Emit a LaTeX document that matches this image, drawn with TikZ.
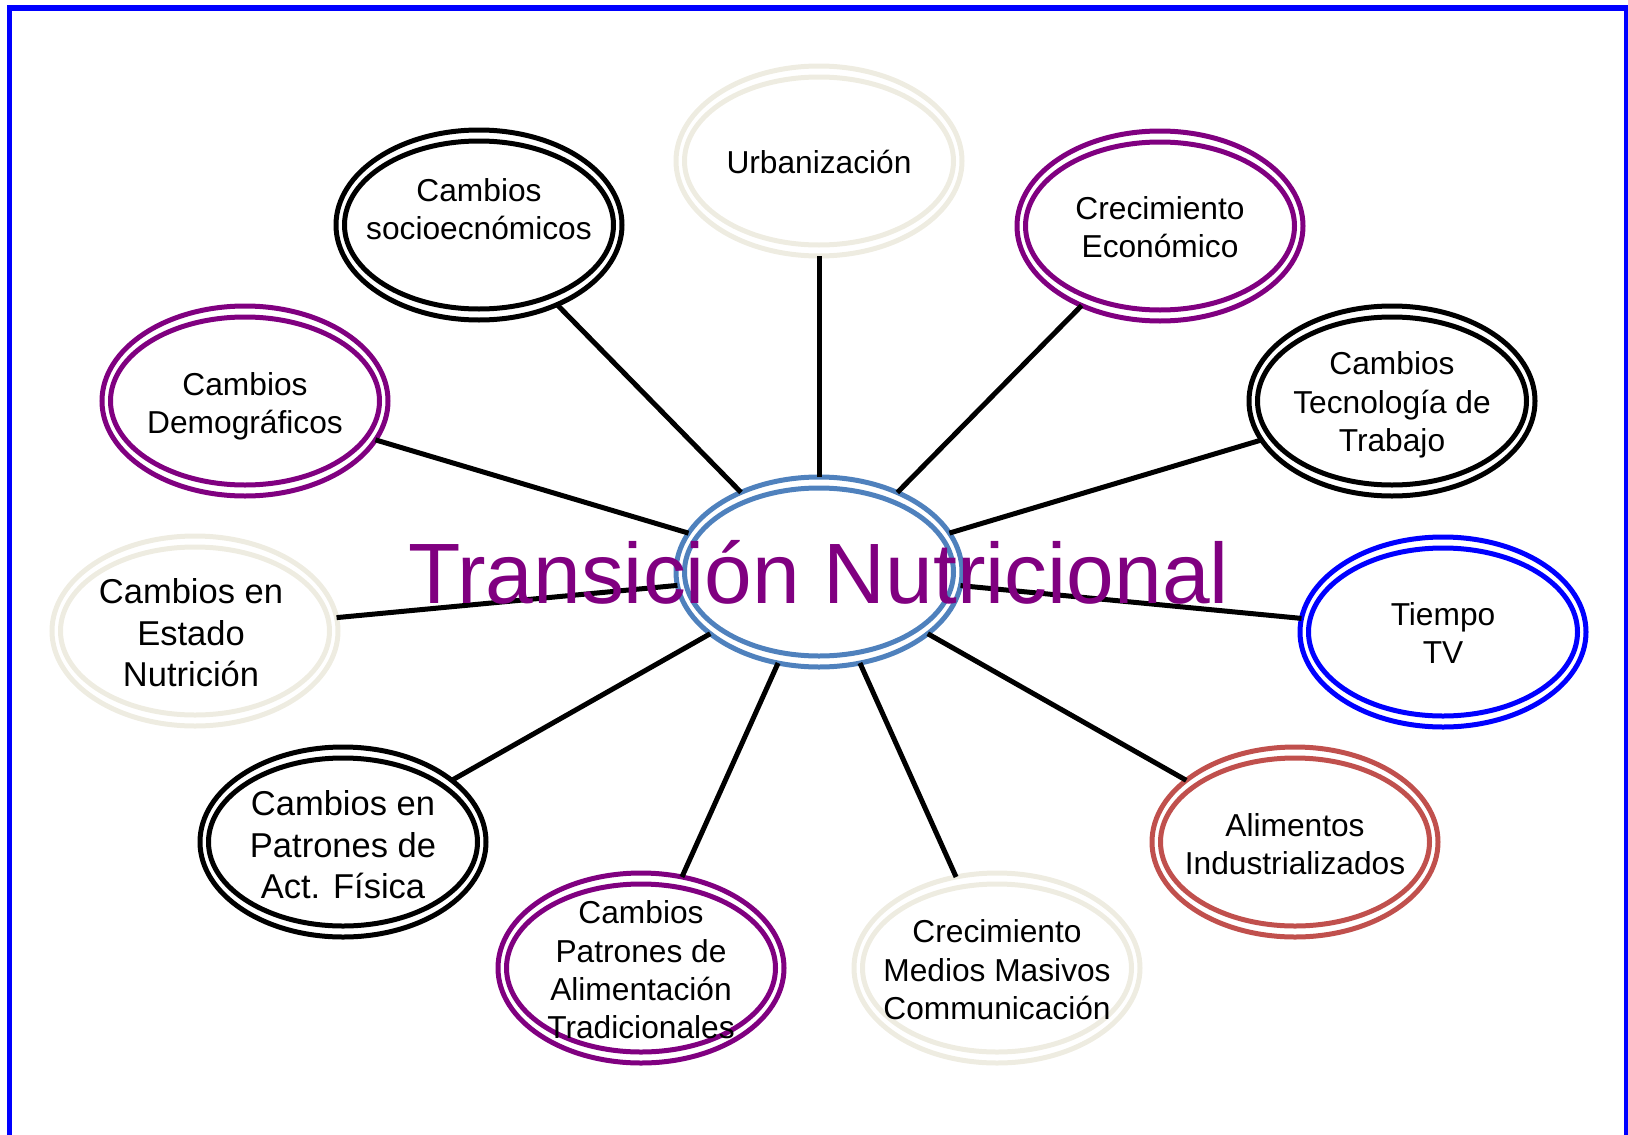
\documentclass[tikz,border=0pt]{standalone}
\usepackage{fontspec}
\setmainfont{Liberation Sans}
\usetikzlibrary{shapes.geometric}
\definecolor{beige}{HTML}{EEECE1}
\definecolor{purp}{HTML}{800080}
\definecolor{pureblue}{HTML}{0000FF}
\definecolor{redring}{HTML}{C0504D}
\definecolor{cblue}{HTML}{4F81BD}
\begin{document}
\begin{tikzpicture}[x=1pt,y=-1pt,
  ring/.style={ellipse, draw=#1, line width=5pt, minimum width=286pt, minimum height=190pt, inner sep=0pt, outer sep=0pt},
  inring/.style={draw=#1, line width=5pt},
  conn/.style={draw=black, line width=5pt},
  lbl/.style={align=center, inner sep=0pt, text=black, font=\fontsize{31.7}{38.4}\selectfont},
  lblbig/.style={align=center, inner sep=0pt, text=black, font=\fontsize{34.5}{41.5}\selectfont}]
\useasboundingbox (0,0) rectangle (1628,1135);
% frame
\draw[pureblue, line width=5.3pt, line join=miter] (9.8,1140) -- (9.8,7.9) -- (1626.5,7.9) -- (1626.5,1140);
% rings
\foreach \n/\x/\y/\c in {urb/819/161/beige, socio/479/225/black, eco/1160/226/purp,
  demo/245/401/purp, tec/1392/401/black, est/195/631/beige, tv/1443/632/pureblue,
  act/343/842/black, alim/1295/842/redring, trad/641/968/purp, med/997/968/beige, c/819/572/cblue}{
  \node[ring=\c] (\n) at (\x,\y) {};
  \draw[inring=\c] (\n.center) ellipse [x radius=134.5, y radius=84];
}
% connectors
\foreach \n in {urb, socio, eco, demo, tec, est, tv, act, alim, trad, med}{
  \draw[conn] (c) -- (\n);
}
% labels (yshift is in page direction: positive = up)
\node[lbl] (urb-t) at ([yshift=-1pt]urb.center) {Urbanización};
\node[lbl] (socio-t) at ([yshift=16pt]socio.center) {Cambios\\socioecnómicos};
\node[lbl] (eco-t) at ([yshift=-1pt]eco.center) {Crecimiento\\Económico};
\node[lbl] (demo-t) at ([yshift=-5pt]demo.center) {Cambios\\Demográficos};
\node[lbl] (tec-t) at ([yshift=-4pt]tec.center) {Cambios\\Tecnología de\\Trabajo};
\node[lblbig] (est-t) at ([xshift=-4pt,yshift=-2pt]est.center) {Cambios en\\Estado\\Nutrición};
\node[lbl] (tv-t) at ([yshift=-1pt]tv.center) {Tiempo\\TV};
\node[lblbig] (act-t) at ([yshift=-3pt]act.center) {Cambios en\\Patrones de\\Act. Física};
\node[lbl] (alim-t) at ([yshift=-2pt]alim.center) {Alimentos\\Industrializados};
\node[lbl] (trad-t) at ([yshift=-2pt]trad.center) {Cambios\\Patrones de\\Alimentación\\Tradicionales};
\node[lbl] (med-t) at ([yshift=-2pt]med.center) {Crecimiento\\Medios Masivos\\Communicación};
% title
\node[anchor=base, inner sep=0pt, text=purp, font=\fontsize{85.7}{100}\selectfont] (title) at (818.5,603) {Transición Nutricional};
\end{tikzpicture}
\end{document}
